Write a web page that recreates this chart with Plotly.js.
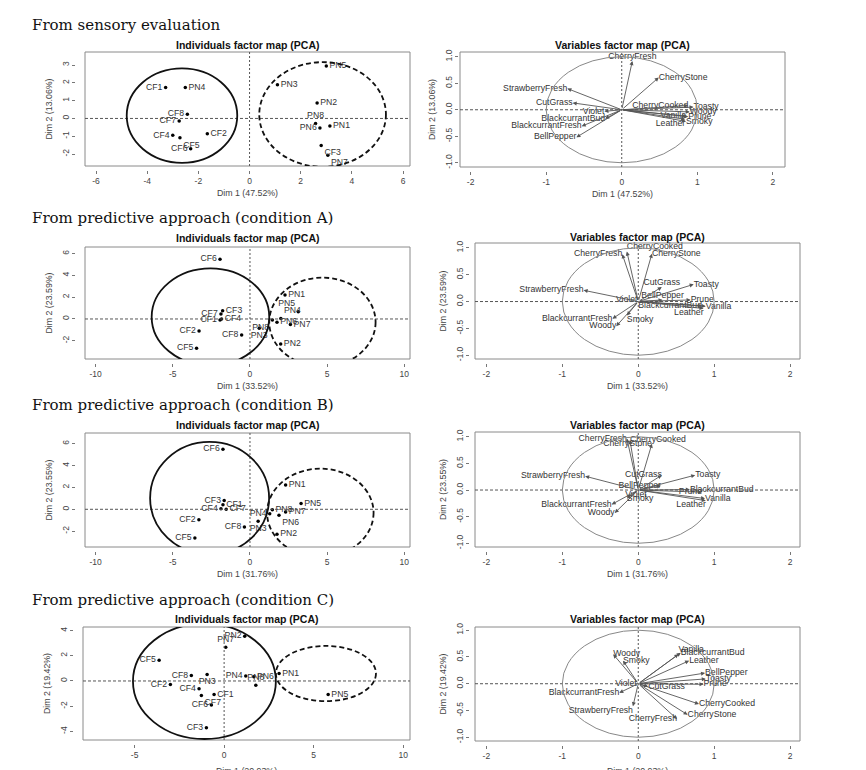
<!DOCTYPE html>
<html><head><meta charset="utf-8">
<script src="https://cdn.plot.ly/plotly-3.0.1.min.js"></script>
<style>html,body{margin:0;padding:0;background:#fff}#chart{width:866px;height:770px}</style>
</head><body><div id="chart"></div>
<script>
// ================= DATA =================
const sectionTitles = ["From sensory evaluation","From predictive approach (condition A)","From predictive approach (condition B)","From predictive approach (condition C)"];
const indTitle = "Individuals factor map (PCA)";
const varTitle = "Variables factor map (PCA)";
const dim1Titles = ["Dim 1 (47.52%)","Dim 1 (33.52%)","Dim 1 (31.76%)","Dim 1 (20.93%)"];
const dim2Titles = ["Dim 2 (13.06%)","Dim 2 (23.59%)","Dim 2 (23.55%)","Dim 2 (19.42%)"];

const indNames = ["CF1","CF2","CF3","CF4","CF5","CF6","CF7","CF8","PN1","PN2","PN3","PN4","PN5","PN6","PN7","PN8"];
const sensIndX = [-3.28,-1.65, 2.80,-3.00,-2.72,-2.30,-2.75,-2.43, 3.14, 2.64, 1.09,-2.51, 3.00, 2.75, 3.06, 2.58];
const sensIndY = [ 1.74,-0.86,-1.52,-0.95,-1.09,-1.70,-0.15, 0.24,-0.43, 0.86, 1.89, 1.74, 2.94,-0.54,-2.06,-0.28];
const aIndX = [-1.94,-3.30,-1.77,-1.84,-3.46,-1.94,-1.88,-0.54, 2.27, 1.99, 0.60, 2.00, 3.13, 1.75, 2.62, 1.45];
const aIndY = [-0.10,-1.10, 0.76, 0.00,-2.69, 5.47, 0.45,-1.47, 2.20,-2.29,-0.85, 0.05, 0.67,-0.30,-0.50,-0.10];
const bIndX = [-1.75,-3.31,-1.67,-1.88,-3.57,-1.75,-1.54,-0.36, 2.31, 1.75, 0.53, 1.28, 3.31, 1.88, 2.31, 1.45];
const bIndY = [ 0.42,-0.95, 0.80, 0.05,-2.62, 5.49, 0.00,-1.62, 2.22,-2.29,-1.10,-0.40, 0.52,-0.55,-0.25,-0.05];
const cIndX = [-0.56,-3.00,-0.99,-1.40,-3.63,-0.71,-1.27,-1.83, 3.07, 1.15,-0.95, 1.21, 5.81, 1.66, 0.09, 1.77];
const cIndY = [-1.07,-0.28,-3.71,-0.62, 1.65,-1.91,-1.15, 0.44, 0.59, 3.55, 0.51, 0.40,-1.07, 0.34, 2.68,-0.33];

const varNames = ["CherryFresh","CherryStone","CherryCooked","StrawberryFresh","CutGrass","Violet","BlackcurrantBud","BlackcurrantFresh","BellPepper","Toasty","Woody","Vanilla","Prune","Leather","Smoky"];
const sensVarX = [ 0.14, 0.49, 0.88,-0.72,-0.65,-0.23,-0.22,-0.53,-0.60, 0.95, 0.90, 0.85, 0.88, 0.84, 0.85];
const sensVarY = [ 0.92, 0.61, 0.08, 0.40, 0.13,-0.03,-0.17,-0.31,-0.52, 0.05,-0.04,-0.12,-0.13,-0.18,-0.22];
const aVarX = [-0.21, 0.18,-0.15,-0.72, 0.31,-0.01, 0.84,-0.34, 0.32, 0.73,-0.29, 0.89, 0.69, 0.86,-0.15];
const aVarY = [ 0.88, 0.89, 0.93, 0.21, 0.27, 0.04,-0.08,-0.32, 0.03, 0.32,-0.46,-0.09, 0.03,-0.13,-0.26];
const bVarX = [-0.15, 0.18,-0.11,-0.70, 0.31,-0.03, 0.68,-0.35, 0.30, 0.75,-0.31, 0.88, 0.84, 0.89,-0.15];
const bVarY = [ 0.97, 0.87, 0.94, 0.26, 0.28,-0.01, 0.01,-0.27, 0.08, 0.28,-0.43,-0.16,-0.04,-0.20,-0.16];
const cVarX = [ 0.51, 0.65, 0.80,-0.07, 0.13,-0.02, 0.56,-0.25, 0.88, 0.89,-0.33, 0.53, 0.86, 0.67,-0.20];
const cVarY = [-0.66,-0.58,-0.38,-0.42,-0.05,-0.01, 0.58,-0.17, 0.20, 0.09, 0.55, 0.55,-0.01, 0.43, 0.43];

// group ellipses: [x0, x1, y0, y1] in data units
const sensSolid = [-4.80,-0.48,-2.49,2.81], sensDashed = [0.38,5.33,-2.72,3.16];
const aSolid = [-6.37,1.25,-4.27,4.64],    aDashed = [1.25,8.14,-4.37,3.79];
const bSolid = [-6.47,1.24,-4.12,6.16],    bDashed = [1.11,8.01,-4.36,3.72];
const cSolid = [-5.09,2.89,-4.60,4.55],    cDashed = [2.89,8.48,-1.60,2.78];
const unitCircle = [-1,1,-1,1];

// tick labels
const indTicksS = [-6,-4,-2,0,2,4,6], indTicksSy = [-2,-1,0,1,2,3];
const indTicksAB = [-10,-5,0,5,10], indTicksABy = [-2,0,2,4,6];
const indTicksC = [-5,0,5,10], indTicksCy = [-4,-2,0,2,4];
const varTicksX = [-2,-1,0,1,2], varTicksY = [-1,-0.5,0,0.5,1];
const varTickTextY = ["-1.0","-0.5","0.0","0.5","1.0"];

// ================= LABEL PLACEMENT (style) =================
const ML="middle left", MR="middle right", TC="top center", BC="bottom center", BR="bottom right", BL="bottom left", TR="top right", TL="top left";
const sensIndPos = [ML,MR,BR,ML,BR,ML,ML,ML, MR,MR,MR,MR,MR,ML,BR,TC];
const aIndPos    = [ML,ML,MR,MR,ML,ML,ML,ML, MR,MR,BC,TR,TL,MR,MR,BL];
const bIndPos    = [MR,ML,ML,ML,ML,ML,MR,ML, MR,MR,BC,ML,MR,BR,MR,MR];
const cIndPos    = [MR,ML,ML,ML,ML,ML,BR,ML, MR,ML,BC,ML,MR,MR,TC,TC];
const sensVarPos = [TC,MR,ML,ML,ML,ML,ML,ML,ML,MR,MR,ML,MR,BL,MR];
const aVarPos    = [ML,MR,TR,ML,TC,ML,ML,ML,TC,MR,ML,MR,MR,BL,BR];
const bVarPos    = [ML,ML,MR,ML,ML,BC,MR,ML,ML,MR,ML,MR,ML,BL,MR];
const cVarPos    = [ML,MR,MR,BL,MR,ML,MR,ML,MR,MR,MR,TR,MR,MR,MR];

// ================= LAYOUT =================
const W = 866, H = 770;
const FONT = "Liberation Sans, Arial, sans-serif";
// plot boxes in px: [left, right, top, bottom]
const panels = [
  {kind:'ind', box:[85,410,52,166],  xr:[-6.43,6.27],  yr:[-2.67,3.73], xt:indTicksS,  yt:indTicksSy,  x:sensIndX, y:sensIndY, pos:sensIndPos, ell:[sensSolid,sensDashed], row:0, gapY:10, titleY:45},
  {kind:'var', box:[460,785,52,167], xr:[-2.14,2.16],  yr:[-1.08,1.09], x:sensVarX, y:sensVarY, pos:sensVarPos, row:0, gapY:2, titleY:45},
  {kind:'ind', box:[85,410,247,359], xr:[-10.69,10.37],yr:[-3.67,6.60], xt:indTicksAB, yt:indTicksABy, x:aIndX, y:aIndY, pos:aIndPos, ell:[aSolid,aDashed], row:1, gapY:10, titleY:238},
  {kind:'var', box:[475,800,243,359],xr:[-2.15,2.13],  yr:[-1.07,1.09], x:aVarX, y:aVarY, pos:aVarPos, row:1, gapY:6, titleY:236.5},
  {kind:'ind', box:[85,410,433,547], xr:[-10.69,10.37],yr:[-3.45,6.98], xt:indTicksAB, yt:indTicksABy, x:bIndX, y:bIndY, pos:bIndPos, ell:[bSolid,bDashed], row:2, gapY:10, titleY:425},
  {kind:'var', box:[475,800,432,547],xr:[-2.15,2.13],  yr:[-1.07,1.09], x:bVarX, y:bVarY, pos:bVarPos, row:2, gapY:6, titleY:425},
  {kind:'ind', box:[83,410,627,740], xr:[-7.88,10.38], yr:[-4.68,4.28], xt:indTicksC,  yt:indTicksCy,  x:cIndX, y:cIndY, pos:cIndPos, ell:[cSolid,cDashed], row:3, gapY:10, titleY:618.5},
  {kind:'var', box:[475,800,627,741],xr:[-2.15,2.13],  yr:[-1.07,1.06], x:cVarX, y:cVarY, pos:cVarPos, row:3, gapY:6, titleY:618.5}
];
const sectionY = [25, 217.5, 405, 600];

const layout = {
  width: W, height: H, margin:{l:0,r:0,t:0,b:0},
  paper_bgcolor:'#fff', plot_bgcolor:'rgba(0,0,0,0)', showlegend:false,
  font:{family:FONT, color:'#333'},
  shapes:[], annotations:[]
};
const traces = [];
const unclip = [];
const axisCommon = {showgrid:false, zeroline:false, showline:false, ticks:'outside', ticklen:3, tickwidth:1, tickcolor:'#777',
  tickfont:{size:8.5, color:'#444', family:FONT}, anchor:'free', fixedrange:true};
const axTitleFont = {size:8.8, color:'#444', family:FONT};

sectionTitles.forEach((t,i)=>{
  layout.annotations.push({text:t, xref:'paper', yref:'paper', x:30/W, y:1-sectionY[i]/H, xanchor:'left', yanchor:'middle',
    showarrow:false, font:{family:'DejaVu Serif, Liberation Serif, serif', size:15, color:'#111'}});
});

panels.forEach((p,i)=>{
  const n = i+1, sx = n===1 ? '' : String(n);
  const xa = 'x'+sx, ya = 'y'+sx;
  const [L,R,T,B] = p.box;
  const isVar = p.kind==='var';
  const lastRow = p.row === 3;
  layout['xaxis'+sx] = Object.assign({}, axisCommon, {
    domain:[L/W, R/W], range:p.xr, position: 1-(B+4)/H,
    tickmode:'array', tickvals: isVar ? varTicksX : p.xt, ticktext: (isVar ? varTicksX : p.xt).map(String),
    title: lastRow ? {text:''} : {text: dim1Titles[p.row], font:axTitleFont, standoff:4}
  });
  if (lastRow) {
    // bottom row: the x-axis title runs off the lower edge of the figure
    layout.annotations.push({text: dim1Titles[p.row], xref:'paper', yref:'paper', x:(L+R)/2/W, y:1-771/H,
      xanchor:'center', yanchor:'middle', showarrow:false, font:axTitleFont});
  }
  layout['yaxis'+sx] = Object.assign({}, axisCommon, {
    domain:[1-B/H, 1-T/H], range:p.yr, position:(L-p.gapY)/W, tickangle:-90,
    tickmode:'array', tickvals: isVar ? varTicksY : p.yt, ticktext: isVar ? varTickTextY : p.yt.map(String),
    title:{text: dim2Titles[p.row], font:axTitleFont, standoff:5}
  });
  // frame
  layout.shapes.push({type:'rect', xref:xa+' domain', yref:ya+' domain', x0:0, x1:1, y0:0, y1:1, line:{color:'#8a8a8a', width:1}});
  // zero lines
  layout.shapes.push({type:'line', xref:xa, yref:ya, x0:p.xr[0], x1:p.xr[1], y0:0, y1:0, line:{color:'#555', width:1, dash:'3px,2px'}});
  layout.shapes.push({type:'line', xref:xa, yref:ya, x0:0, x1:0, y0:p.yr[0], y1:p.yr[1], line:{color:'#555', width:1, dash:'2px,2px'}});
  // subplot title
  layout.annotations.push({text: isVar ? varTitle : indTitle, xref:'paper', yref:'paper', x:(L+R)/2/W, y:1-p.titleY/H,
    xanchor:'center', yanchor:'middle', showarrow:false, font:{family:FONT, size:10.5, color:'#111', weight:'bold'}});

  if (!isVar) {
    p.ell.forEach((e,k)=>{
      unclip.push(layout.shapes.length);
      layout.shapes.push({type:'circle', xref:xa, yref:ya, x0:e[0], x1:e[1], y0:e[2], y1:e[3],
        line:{color:'#111', width:1.8, dash: k===0 ? 'solid' : '5px,3px'}});
    });
    traces.push({type:'scatter', mode:'markers+text', xaxis:xa, yaxis:ya, x:p.x, y:p.y, text:indNames,
      textposition:p.pos, cliponaxis:false, hoverinfo:'skip',
      marker:{size:3.5, color:'#000'}, textfont:{size:8.7, color:'#333', family:FONT}});
  } else {
    layout.shapes.push({type:'circle', xref:xa, yref:ya, x0:unitCircle[0], x1:unitCircle[1], y0:unitCircle[2], y1:unitCircle[3],
      line:{color:'#888', width:1}});
    p.x.forEach((vx,k)=>{
      layout.annotations.push({x:vx, y:p.y[k], ax:0, ay:0, xref:xa, yref:ya, axref:xa, ayref:ya, text:'',
        showarrow:true, arrowhead:2, arrowsize:0.9, arrowwidth:0.9, arrowcolor:'#555', standoff:0});
    });
    traces.push({type:'scatter', mode:'text', xaxis:xa, yaxis:ya, x:p.x, y:p.y, text:varNames,
      textposition:p.pos, cliponaxis:false, hoverinfo:'skip', textfont:{size:8.7, color:'#333', family:FONT}});
  }
});

Plotly.newPlot('chart', traces, layout, {staticPlot:true, displayModeBar:false}).then(gd=>{
  const set = new Set(unclip);
  gd.querySelectorAll('.shapelayer path').forEach(el=>{
    if (set.has(+el.getAttribute('data-index'))) el.removeAttribute('clip-path');
  });
});
</script>
</body></html>
